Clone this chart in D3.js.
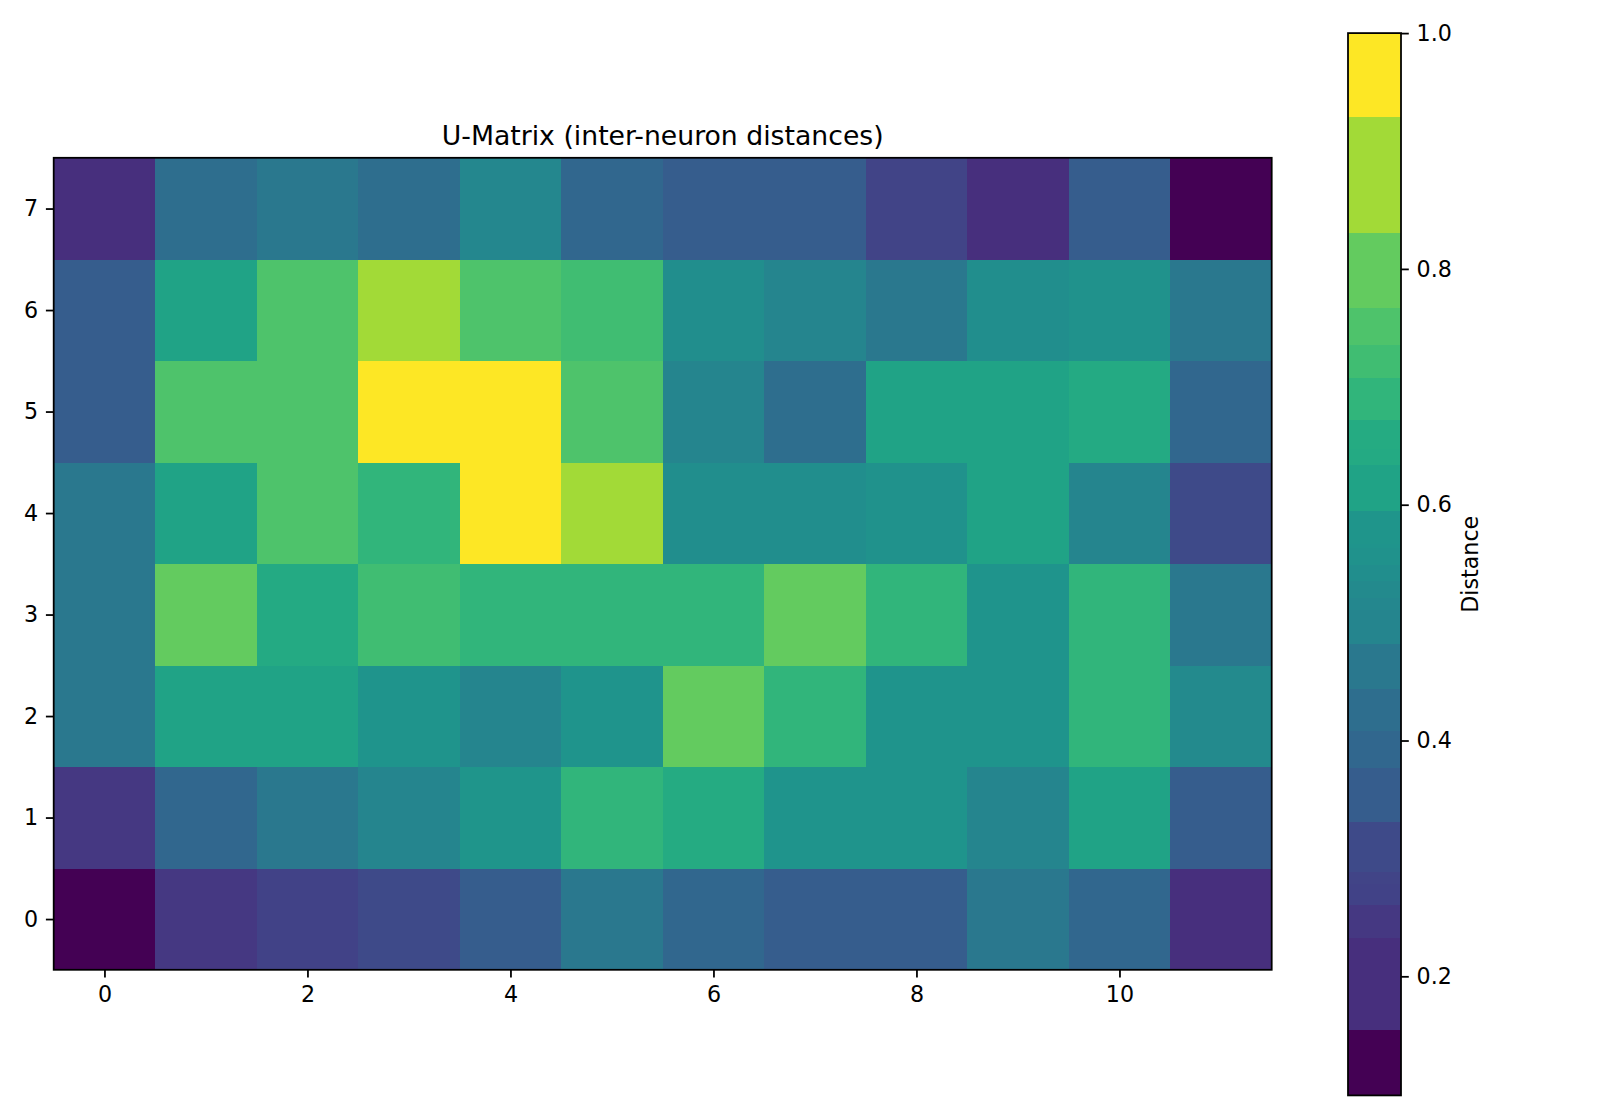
<!DOCTYPE html>
<html>
<head>
<meta charset="utf-8">
<script src="https://cdn.jsdelivr.net/npm/d3@7"></script>
<style>
  body { margin: 0; background: #fff; }
  svg { display: block; }
  text { font-family: "DejaVu Sans", sans-serif; fill: #000; }
</style>
</head>
<body>
<svg id="chart" width="1600" height="1120"></svg>
<script>
// grid positions (SOM neurons)
const cols = d3.range(12);
const rows = d3.range(8);

// U-matrix values, rows[0] is the bottom row (y = 0)
const row0 = [0.099, 0.245, 0.275, 0.300, 0.360, 0.460, 0.395, 0.360, 0.360, 0.460, 0.395, 0.220];
const row1 = [0.245, 0.395, 0.460, 0.510, 0.570, 0.690, 0.650, 0.565, 0.565, 0.510, 0.620, 0.360];
const row2 = [0.460, 0.620, 0.620, 0.565, 0.510, 0.565, 0.785, 0.690, 0.565, 0.565, 0.690, 0.525];
const row3 = [0.460, 0.785, 0.645, 0.725, 0.690, 0.690, 0.690, 0.785, 0.690, 0.565, 0.690, 0.460];
const row4 = [0.460, 0.620, 0.750, 0.690, 1.000, 0.875, 0.540, 0.540, 0.560, 0.620, 0.510, 0.300];
const row5 = [0.360, 0.750, 0.750, 1.000, 1.000, 0.750, 0.510, 0.420, 0.620, 0.620, 0.645, 0.395];
const row6 = [0.360, 0.620, 0.750, 0.875, 0.750, 0.725, 0.540, 0.510, 0.460, 0.540, 0.555, 0.460];
const row7 = [0.220, 0.420, 0.460, 0.420, 0.515, 0.395, 0.360, 0.360, 0.280, 0.220, 0.360, 0.099];
const umatrix = [row0, row1, row2, row3, row4, row5, row6, row7];

const xTicks = [0, 2, 4, 6, 8, 10];
const yTicks = [0, 1, 2, 3, 4, 5, 6, 7];
const cbarTicks = [0.2, 0.4, 0.6, 0.8, 1.0];

const titleText = "U-Matrix (inter-neuron distances)";
const cbarLabel = "Distance";

const svg = d3.select("#chart");

// layout (figure 10x7 in at 160 dpi)
const plot = { left: 53.7, right: 1271.7, top: 157.8, bottom: 969.8 };
const cbar = { left: 1348, right: 1401, top: 33.1, bottom: 1095.4 };
const tickLen = 7.8, tickPad = 7.8, lw = 1.78, fs = 22.2;

const x = d3.scaleLinear().domain([-0.5, cols.length - 0.5]).range([plot.left, plot.right]);
const y = d3.scaleLinear().domain([-0.5, rows.length - 0.5]).range([plot.bottom, plot.top]);

const cells = [];
rows.forEach(r => cols.forEach(c => cells.push({ c, r, v: umatrix[r][c] })));

const vmin = d3.min(cells, d => d.v), vmax = d3.max(cells, d => d.v);
const color = d3.scaleSequential(d3.interpolateViridis).domain([vmin, vmax]);

// heatmap cells
svg.append("g")
  .selectAll("rect")
  .data(cells)
  .join("rect")
  .attr("x", d => x(d.c - 0.5))
  .attr("y", d => y(d.r + 0.5))
  .attr("width", d => x(d.c + 0.5) - x(d.c - 0.5) + 0.5)
  .attr("height", d => y(d.r - 0.5) - y(d.r + 0.5) + 0.5)
  .attr("fill", d => color(d.v))
  .attr("shape-rendering", "crispEdges");

// axes
const xAxis = svg.append("g")
  .attr("transform", `translate(0,${plot.bottom})`)
  .call(d3.axisBottom(x).tickValues(xTicks).tickFormat(d3.format("d")).tickSize(tickLen).tickPadding(tickPad));
const yAxis = svg.append("g")
  .attr("transform", `translate(${plot.left},0)`)
  .call(d3.axisLeft(y).tickValues(yTicks).tickFormat(d3.format("d")).tickSize(tickLen).tickPadding(tickPad));

[xAxis, yAxis].forEach(g => {
  g.select(".domain").remove();
  g.selectAll(".tick line").attr("stroke", "#000").attr("stroke-width", lw);
  g.selectAll(".tick text").attr("font-size", fs).attr("font-family", "DejaVu Sans");
});
xAxis.selectAll(".tick text").attr("dy", "0.76em");

svg.append("rect")
  .attr("x", plot.left).attr("y", plot.top)
  .attr("width", plot.right - plot.left).attr("height", plot.bottom - plot.top)
  .attr("fill", "none").attr("stroke", "#000").attr("stroke-width", lw);

// title
svg.append("text")
  .attr("x", (plot.left + plot.right) / 2)
  .attr("y", 145)
  .attr("text-anchor", "middle")
  .attr("font-size", 26.7)
  .text(titleText);

// colorbar: gradient snapped to the colours present in the image
const cy = d3.scaleLinear().domain([vmin, vmax]).range([cbar.bottom, cbar.top]);
const levels = Array.from(new Set(cells.map(d => d.v))).sort(d3.ascending);
const levelRgb = levels.map(v => d3.rgb(color(v)));

function nearestLevel(v) {
  const c = d3.rgb(color(v));
  let best = 0, bd = Infinity;
  levelRgb.forEach((l, i) => {
    const dd = (l.r - c.r) ** 2 + (l.g - c.g) ** 2 + (l.b - c.b) ** 2;
    if (dd < bd) { bd = dd; best = i; }
  });
  return best;
}

const steps = Math.round(cbar.bottom - cbar.top);
const bands = [];
for (let i = 0; i < steps; i++) {
  const v0 = cy.invert(cbar.bottom - i), v1 = cy.invert(cbar.bottom - i - 1);
  const k = nearestLevel((v0 + v1) / 2);
  const last = bands[bands.length - 1];
  if (last && last.k === k) last.v1 = v1;
  else bands.push({ k, v0, v1 });
}

svg.append("g")
  .selectAll("rect")
  .data(bands)
  .join("rect")
  .attr("x", cbar.left)
  .attr("width", cbar.right - cbar.left)
  .attr("y", d => cy(d.v1))
  .attr("height", d => cy(d.v0) - cy(d.v1) + 0.6)
  .attr("fill", d => color(levels[d.k]))
  .attr("shape-rendering", "crispEdges");

svg.append("rect")
  .attr("x", cbar.left).attr("y", cbar.top)
  .attr("width", cbar.right - cbar.left).attr("height", cbar.bottom - cbar.top)
  .attr("fill", "none").attr("stroke", "#000").attr("stroke-width", lw);

const cAxis = svg.append("g")
  .attr("transform", `translate(${cbar.right},0)`)
  .call(d3.axisRight(cy).tickValues(cbarTicks).tickFormat(d3.format(".1f")).tickSize(tickLen).tickPadding(tickPad));
cAxis.select(".domain").remove();
cAxis.selectAll(".tick line").attr("stroke", "#000").attr("stroke-width", lw);
cAxis.selectAll(".tick text").attr("font-size", fs).attr("font-family", "DejaVu Sans");

svg.append("text")
  .attr("transform", `translate(1478,${(cbar.top + cbar.bottom) / 2}) rotate(-90)`)
  .attr("text-anchor", "middle")
  .attr("font-size", fs)
  .text(cbarLabel);
</script>
</body>
</html>
